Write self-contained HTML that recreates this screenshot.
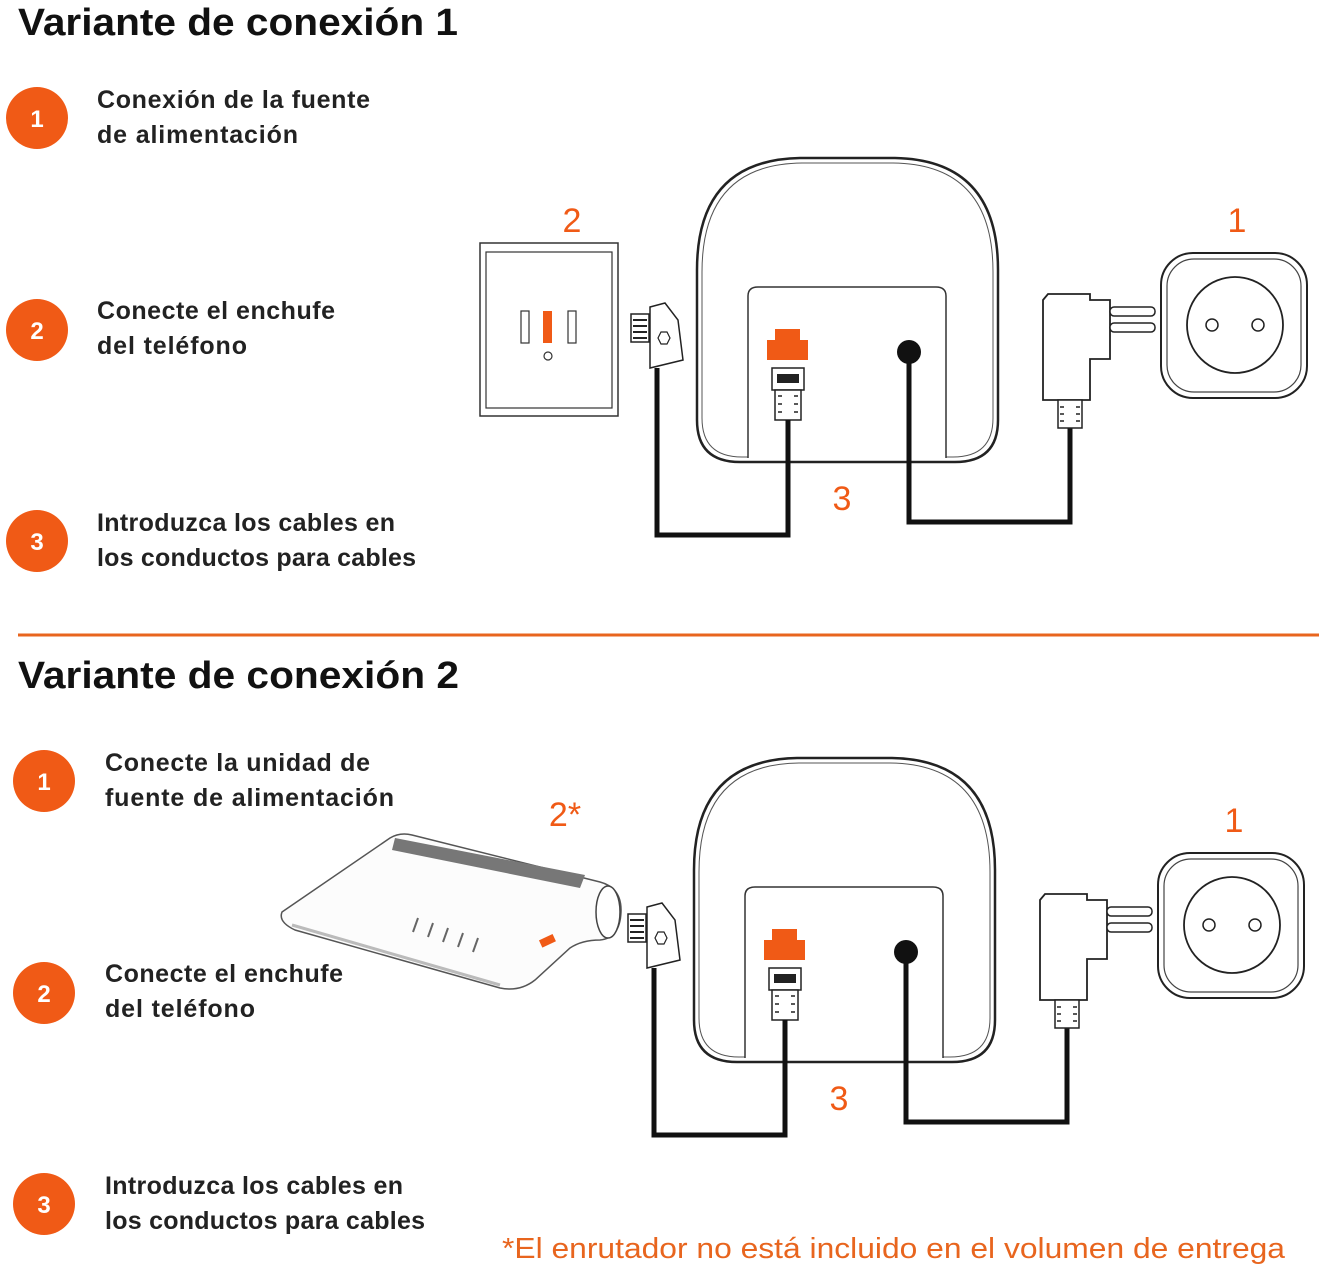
<!DOCTYPE html>
<html><head><meta charset="utf-8"><style>
html,body{margin:0;padding:0;background:#fff;}
svg{display:block;font-family:"Liberation Sans",sans-serif;}
</style></head><body>
<svg width="1324" height="1271" viewBox="0 0 1324 1271" xmlns="http://www.w3.org/2000/svg">
<defs>
<g id="dia">
  <path d="M697,420 L697,270 Q697,160 800,158 L895,158 Q998,160 998,270 L998,420 Q998,462 955,462 L740,462 Q697,462 697,420Z" fill="#fff" stroke="#222" stroke-width="2.5"/>
  <path d="M702,418 L702,272 Q702,164 802,163 L893,163 Q993,164 993,272 L993,418 Q993,457 953,457 L742,457 Q702,457 702,418Z" fill="none" stroke="#555" stroke-width="1"/>
  <path d="M748,458 L748,296 Q748,287 758,287 L936,287 Q946,287 946,296 L946,458" fill="#fff" stroke="#333" stroke-width="1.5"/>
  <path d="M767,340 L775,340 L775,329 L800,329 L800,340 L808,340 L808,360 L767,360Z" fill="#f05a16"/>
  <rect x="772" y="368" width="32" height="22" fill="#fff" stroke="#222" stroke-width="1.5"/>
  <rect x="777" y="374" width="22" height="9" fill="#222"/>
  <path d="M775,390 L801,390 L801,420 L775,420Z" fill="#fff" stroke="#222" stroke-width="1.5"/>
  <path d="M778,396h4M778,404h4M778,412h4M794,396h4M794,404h4M794,412h4" stroke="#222" stroke-width="1.5"/>
  <circle cx="909" cy="352" r="12" fill="#111"/>
  <path d="M909,352 L909,522 L1070,522 L1070,428" fill="none" stroke="#111" stroke-width="5"/>
  <path d="M788,420 L788,535 L657,535 L657,368" fill="none" stroke="#111" stroke-width="5"/>
  <path d="M650,307 L665,303 L678,320 L683,360 L650,368Z" fill="#fff" stroke="#222" stroke-width="1.5"/>
  <rect x="631" y="314" width="18" height="28" fill="#fff" stroke="#222" stroke-width="1.5"/>
  <path d="M633,320h14M633,326h14M633,332h14M633,338h14" stroke="#222" stroke-width="2"/>
  <polygon points="661,332 667,332 670,338 667,344 661,344 658,338" fill="none" stroke="#222" stroke-width="1.2"/>
  <path d="M1043,300 L1048,294 L1090,294 L1090,300 L1110,300 L1110,359 L1090,359 L1090,400 L1043,400Z" fill="#fff" stroke="#222" stroke-width="1.8"/>
  <rect x="1110" y="307" width="45" height="9" rx="4" fill="#fff" stroke="#222" stroke-width="1.5"/>
  <rect x="1110" y="323" width="45" height="9" rx="4" fill="#fff" stroke="#222" stroke-width="1.5"/>
  <rect x="1058" y="400" width="24" height="28" fill="#fff" stroke="#222" stroke-width="1.5"/>
  <path d="M1060,407h4M1060,414h4M1060,421h4M1076,407h4M1076,414h4M1076,421h4" stroke="#222" stroke-width="1.5"/>
  <rect x="1161" y="253" width="146" height="145" rx="32" fill="#fff" stroke="#222" stroke-width="2"/>
  <rect x="1167" y="259" width="134" height="133" rx="27" fill="none" stroke="#444" stroke-width="1.2"/>
  <circle cx="1235" cy="325" r="48" fill="#fff" stroke="#222" stroke-width="1.8"/>
  <circle cx="1212" cy="325" r="6" fill="#fff" stroke="#222" stroke-width="1.5"/>
  <circle cx="1258" cy="325" r="6" fill="#fff" stroke="#222" stroke-width="1.5"/>
  <text x="1237" y="232" font-size="34" fill="#f05a16" text-anchor="middle">1</text>
  <text x="842" y="510" font-size="34" fill="#f05a16" text-anchor="middle">3</text>
</g>
</defs>

<text x="18" y="35" font-size="38" font-weight="bold" fill="#111" textLength="440" lengthAdjust="spacingAndGlyphs">Variante de conexión 1</text>
<g font-size="25" font-weight="bold" fill="#222" lengthAdjust="spacingAndGlyphs">
<circle cx="37" cy="118" r="31" fill="#f05a16"/><text x="37" y="127" fill="#fff" font-size="24" text-anchor="middle">1</text>
<text x="97" y="108" textLength="273">Conexión de la fuente</text><text x="97" y="143" textLength="201">de alimentación</text>
<circle cx="37" cy="330" r="31" fill="#f05a16"/><text x="37" y="339" fill="#fff" font-size="24" text-anchor="middle">2</text>
<text x="97" y="319" textLength="238">Conecte el enchufe</text><text x="97" y="354" textLength="150">del teléfono</text>
<circle cx="37" cy="541" r="31" fill="#f05a16"/><text x="37" y="550" fill="#fff" font-size="24" text-anchor="middle">3</text>
<text x="97" y="531" textLength="298">Introduzca los cables en</text><text x="97" y="566" textLength="319">los conductos para cables</text>
</g>
<use href="#dia"/>
<rect x="480" y="243" width="138" height="173" fill="#fff" stroke="#333" stroke-width="1.5"/>
<rect x="486" y="252" width="126" height="156" fill="#fff" stroke="#333" stroke-width="1.2"/>
<rect x="521" y="311" width="8" height="32" fill="#fff" stroke="#333" stroke-width="1.2"/>
<rect x="543" y="311" width="9" height="32" fill="#f05a16"/>
<rect x="568" y="311" width="8" height="32" fill="#fff" stroke="#333" stroke-width="1.2"/>
<circle cx="548" cy="356" r="4" fill="none" stroke="#333" stroke-width="1.2"/>
<text x="572" y="232" font-size="34" fill="#f05a16" text-anchor="middle">2</text>

<line x1="18" y1="635" x2="1319" y2="635" stroke="#e8651e" stroke-width="3"/>

<text x="18" y="688" font-size="38" font-weight="bold" fill="#111" textLength="441" lengthAdjust="spacingAndGlyphs">Variante de conexión 2</text>
<g font-size="25" font-weight="bold" fill="#222" lengthAdjust="spacingAndGlyphs">
<circle cx="44" cy="781" r="31" fill="#f05a16"/><text x="44" y="790" fill="#fff" font-size="24" text-anchor="middle">1</text>
<text x="105" y="771" textLength="265">Conecte la unidad de</text><text x="105" y="806" textLength="289">fuente de alimentación</text>
<circle cx="44" cy="993" r="31" fill="#f05a16"/><text x="44" y="1002" fill="#fff" font-size="24" text-anchor="middle">2</text>
<text x="105" y="982" textLength="238">Conecte el enchufe</text><text x="105" y="1017" textLength="150">del teléfono</text>
<circle cx="44" cy="1204" r="31" fill="#f05a16"/><text x="44" y="1213" fill="#fff" font-size="24" text-anchor="middle">3</text>
<text x="105" y="1194" textLength="298">Introduzca los cables en</text><text x="105" y="1229" textLength="320">los conductos para cables</text>
</g>
<use href="#dia" transform="translate(-3,600)"/>
<!-- router -->
<path d="M282,912 L390,838 Q400,832 412,835 L600,882 Q622,888 621,912 Q620,938 600,940 Q582,940 570,948 L535,980 Q520,992 500,988 L295,930 Q278,922 282,912Z" fill="#fcfcfc" stroke="#555" stroke-width="1.5"/>
<path d="M292,925 L500,985" stroke="#bbb" stroke-width="3"/>
<path d="M395,838 L585,875 L580,888 L392,850Z" fill="#777"/>
<ellipse cx="608" cy="912" rx="12" ry="26" fill="#fff" stroke="#444" stroke-width="1.5"/>
<path d="M413,932l5,-14M428,937l5,-14M443,942l5,-14M458,947l5,-14M473,952l5,-14" stroke="#666" stroke-width="2"/>
<rect x="540" y="937" width="15" height="8" fill="#f05a16" transform="rotate(-25 547 941)"/>
<text x="565" y="826" font-size="34" fill="#f05a16" text-anchor="middle">2*</text>

<text x="502" y="1258" font-size="29" fill="#e8651e" textLength="783" lengthAdjust="spacingAndGlyphs">*El enrutador no está incluido en el volumen de entrega</text>
</svg>
</body></html>
